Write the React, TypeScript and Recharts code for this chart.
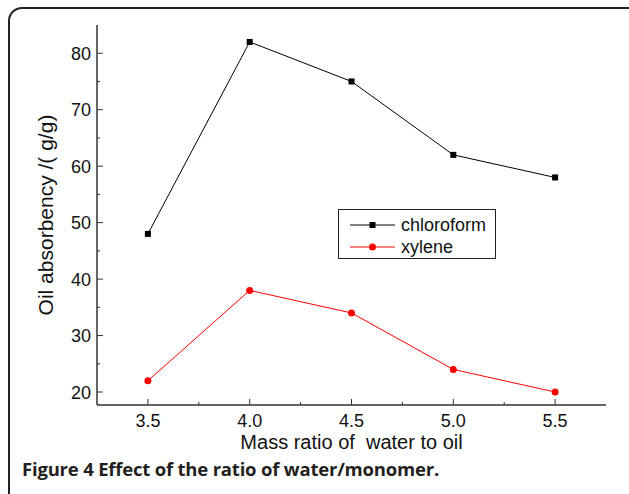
import { LineChart, Line, XAxis, YAxis } from 'recharts';

const ratios = [3.5, 4.0, 4.5, 5.0, 5.5];
const chloroform = [48, 82, 75, 62, 58];
const xylene = [22, 38, 34, 24, 20];

const xTicks = [3.5, 3.75, 4.0, 4.25, 4.5, 4.75, 5.0, 5.25, 5.5];
const xMajor = [3.5, 4.0, 4.5, 5.0, 5.5];
const yTicks = [20, 25, 30, 35, 40, 45, 50, 55, 60, 65, 70, 75, 80];
const yMajor = [20, 30, 40, 50, 60, 70, 80];

const data = ratios.map((r, i) => ({
  ratio: r,
  chloroform: chloroform[i],
  xylene: xylene[i],
}));

const FONT = '"Liberation Sans", Arial, sans-serif';
const AXIS = '#333';

function BottomTick(props: any) {
  const { x, y, payload } = props;
  const major = xMajor.includes(payload.value);
  return (
    <g>
      <line x1={x} y1={y} x2={x} y2={y - (major ? 6 : 3)} stroke={AXIS} strokeWidth={1} />
      {major && (
        <text x={x} y={y + 22} textAnchor="middle" fontSize={18} fill="#111" fontFamily={FONT}>
          {payload.value.toFixed(1)}
        </text>
      )}
    </g>
  );
}

function LeftTick(props: any) {
  const { x, y, payload } = props;
  const major = yMajor.includes(payload.value);
  return (
    <g>
      <line x1={x} y1={y} x2={x + (major ? 6 : 3)} y2={y} stroke={AXIS} strokeWidth={1} />
      {major && (
        <text x={x - 6} y={y + 6.5} textAnchor="end" fontSize={18} fill="#111" fontFamily={FONT}>
          {payload.value}
        </text>
      )}
    </g>
  );
}

function Square(props: any) {
  const { cx, cy } = props;
  return <rect x={cx - 3} y={cy - 3} width={6} height={6} fill="#000" />;
}

export default function App() {
  return (
    <div style={{ position: 'absolute', left: 0, top: 0, width: 629, height: 494, background: '#fff', overflow: 'hidden' }}>
      <div
        style={{
          position: 'absolute',
          left: 8,
          top: 7,
          width: 640,
          height: 520,
          border: '2px solid #222',
          borderRadius: 14,
          boxSizing: 'border-box',
        }}
      />
      <div style={{ position: 'absolute', left: 0, top: 0 }}>
        <LineChart width={629} height={494} data={data} margin={{ top: 25, right: 23, left: 0, bottom: 39 }}>
          <XAxis
            dataKey="ratio"
            type="number"
            domain={[3.25, 5.75]}
            ticks={xTicks}
            interval={0}
            tickLine={false}
            tickSize={0}
            tickMargin={0}
            tick={<BottomTick />}
            axisLine={{ stroke: AXIS, strokeWidth: 1.5 }}
            height={50}
            label={{ value: 'Mass ratio of\u00a0 water to oil', position: 'center', dy: 12, fontSize: 20, fill: '#111', fontFamily: FONT }}
          />
          <XAxis
            xAxisId="top"
            dataKey="ratio"
            type="number"
            orientation="top"
            domain={[3.25, 5.75]}
            tick={false}
            tickLine={false}
            axisLine={{ stroke: AXIS, strokeWidth: 1.5 }}
            height={0}
          />
          <YAxis
            type="number"
            domain={[17.7, 85]}
            ticks={yTicks}
            interval={0}
            allowDataOverflow
            tickLine={false}
            tickSize={0}
            tickMargin={0}
            tick={<LeftTick />}
            axisLine={{ stroke: AXIS, strokeWidth: 1.5 }}
            width={97}
            label={{ value: 'Oil absorbency /( g/g)', angle: -90, position: 'center', dx: -3, fontSize: 21, fill: '#111', fontFamily: FONT }}
          />
          <YAxis
            yAxisId="right"
            orientation="right"
            type="number"
            domain={[17.7, 85]}
            tick={false}
            tickLine={false}
            axisLine={{ stroke: AXIS, strokeWidth: 1.5 }}
            width={0}
          />
          <Line
            dataKey="chloroform"
            stroke="#000"
            strokeWidth={1}
            dot={<Square />}
            isAnimationActive={false}
          />
          <Line
            dataKey="xylene"
            stroke="#ff0000"
            strokeWidth={1}
            dot={{ r: 3.5, fill: '#ff0000', stroke: '#ff0000', strokeWidth: 0 }}
            isAnimationActive={false}
          />
        </LineChart>
      </div>
      <div
        style={{
          position: 'absolute',
          left: 338,
          top: 209,
          width: 158,
          height: 50,
          border: '1px solid #222',
          boxSizing: 'border-box',
          background: '#fff',
        }}
      >
        <svg width={156} height={48} style={{ position: 'absolute', left: 0, top: 0 }}>
          <line x1={11} y1={15} x2={56} y2={15} stroke="#000" strokeWidth={1} />
          <rect x={30.5} y={12} width={6} height={6} fill="#000" />
          <text x={62} y={21} fontSize={18} fontFamily={FONT} fill="#111">chloroform</text>
          <line x1={11} y1={37} x2={56} y2={37} stroke="#ff0000" strokeWidth={1} />
          <circle cx={33.5} cy={37} r={3.5} fill="#ff0000" />
          <text x={62} y={43} fontSize={18} fontFamily={FONT} fill="#111">xylene</text>
        </svg>
      </div>
      <div
        style={{
          position: 'absolute',
          left: 22,
          top: 458,
          fontFamily: '"Open Sans", sans-serif',
          fontWeight: 700,
          fontSize: 18.5,
          letterSpacing: -0.2,
          color: '#231f20',
          lineHeight: '22px',
          whiteSpace: 'nowrap',
        }}
      >
        Figure 4 Effect of the ratio of water/monomer.
      </div>
    </div>
  );
}
